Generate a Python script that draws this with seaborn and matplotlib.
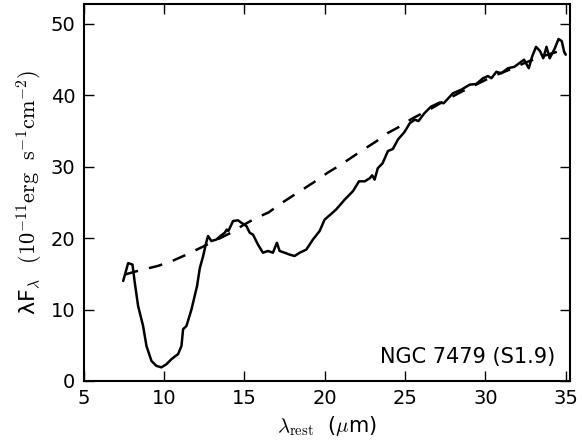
import numpy as np
import pandas as pd
import matplotlib
matplotlib.use('Agg')
import matplotlib.pyplot as plt
import seaborn as sns

# observed spectrum (wavelength in micron, lambda*F_lambda)
wave_obs = [7.45, 7.76, 8.03, 8.17, 8.38, 8.69, 8.9, 9.21, 9.52, 9.83, 10.15, 10.46,
            10.87, 11.08, 11.18, 11.39, 11.7, 12.05, 12.22, 12.43, 12.6, 12.73, 12.94,
            13.25, 13.5, 13.77, 13.9, 14.0, 14.29, 14.6, 14.81, 15.12, 15.33, 15.53,
            15.84, 16.15, 16.46, 16.77, 17.02, 17.19, 17.5, 17.8, 18.12, 18.44, 18.85,
            19.26, 19.68, 19.99, 20.4, 20.7, 21.24, 21.76, 22.13, 22.49, 22.8, 22.95,
            23.1, 23.3, 23.6, 23.93, 24.24, 24.55, 24.97, 25.29, 25.6, 25.83, 26.2,
            26.6, 27.15, 27.4, 27.98, 28.5, 29.02, 29.43, 29.85, 30.16, 30.37, 30.68,
            30.99, 31.4, 31.8, 32.1, 32.4, 32.7, 32.9, 33.15, 33.4, 33.6, 33.8, 34.0,
            34.3, 34.55, 34.75, 34.9, 35.0]
flux_obs = [14.0, 16.5, 16.3, 13.8, 10.5, 7.7, 4.9, 2.8, 2.1, 1.9, 2.35, 3.06,
            3.76, 4.9, 7.25, 7.7, 10.0, 13.3, 15.8, 17.5, 19.2, 20.3, 19.6,
            19.8, 20.3, 20.75, 21.2, 21.0, 22.4, 22.5, 22.15, 21.7, 20.75, 20.5,
            19.1, 17.96, 18.2, 17.96, 19.35, 18.2, 17.96, 17.7, 17.5, 17.96, 18.4,
            19.8, 21.0, 22.6, 23.4, 24.0, 25.4, 26.6, 27.96, 27.96, 28.4, 28.8,
            28.2, 29.8, 30.5, 32.2, 32.5, 33.8, 34.9, 36.1, 36.6, 36.4, 37.5,
            38.4, 39.0, 38.9, 40.3, 40.8, 41.5, 41.6, 42.4, 42.7, 42.4, 43.3,
            43.1, 43.8, 44.0, 44.5, 45.0, 43.8, 45.4, 46.8, 46.2, 45.2, 46.8, 45.2,
            46.5, 47.9, 47.6, 46.1, 45.7]

# continuum model (dashed)
wave_cont = [7.55, 8.5, 9.6, 10.5, 11.3, 12.5, 13.3, 14.2, 14.9, 15.7, 16.5, 17.3,
             18.4, 19.3, 20.2, 20.9, 21.8, 22.4, 23.2, 23.9, 24.8, 25.4, 26.5, 27.5,
             28.5, 29.5, 30.5, 31.5, 32.5, 33.2, 34.0, 34.9]
flux_cont = [14.9, 15.5, 16.1, 16.8, 17.6, 18.9, 19.8, 20.8, 21.8, 22.8, 23.6, 24.9,
             26.5, 27.8, 29.2, 30.15, 31.5, 32.4, 33.55, 34.7, 35.8, 36.7, 38.0, 39.3,
             40.5, 41.6, 42.7, 43.6, 44.6, 45.2, 45.8, 46.4]

obs = pd.DataFrame({'wave': wave_obs, 'flux': flux_obs})
cont = pd.DataFrame({'wave': wave_cont, 'flux': flux_cont})

sns.set_style('ticks')
plt.rcParams['font.family'] = ['DejaVu Sans']
plt.rcParams['mathtext.fontset'] = 'cm'
plt.rcParams['text.color'] = 'black'
plt.rcParams['axes.labelcolor'] = 'black'

fig, ax = plt.subplots(figsize=(5.82, 4.45), dpi=100)
fig.subplots_adjust(left=0.144, right=0.979, bottom=0.144, top=0.991)

sns.lineplot(data=cont, x='wave', y='flux', ax=ax, color='black', lw=1.8,
             linestyle='--', estimator=None, sort=False)
ax.lines[-1].set_dashes((5.5, 4.5))
sns.lineplot(data=obs, x='wave', y='flux', ax=ax, color='black', lw=1.8,
             estimator=None, sort=False)

ax.set_xlim(5, 35.25)
ax.set_ylim(0, 52.8)
ax.set_xticks([5, 10, 15, 20, 25, 30, 35])
ax.set_yticks([0, 10, 20, 30, 40, 50])

for sp in ax.spines.values():
    sp.set_visible(True)
    sp.set_linewidth(1.5)
    sp.set_color('black')
ax.tick_params(direction='in', top=True, right=True, length=7, width=1,
               labelsize=14, pad=6, colors='black')

ax.set_xlabel(r'$\lambda_{\rm rest}$  ($\mu$m)', fontsize=15, labelpad=4)
ax.set_ylabel(r'λF$_\lambda$  $(10^{-11}{\rm erg\ \ s^{-1}cm^{-2}})$', fontsize=16,
              labelpad=4)

ax.text(0.970, 0.048, 'NGC 7479 (S1.9)', transform=ax.transAxes,
        ha='right', va='baseline', fontsize=15)

plt.savefig('out.png', dpi=100)
